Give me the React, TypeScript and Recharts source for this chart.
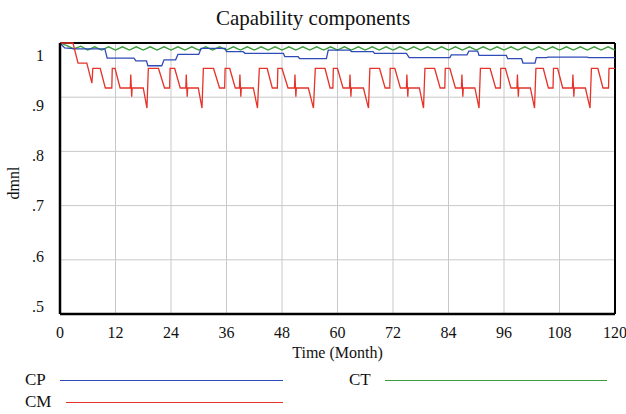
import {
  LineChart,
  Line,
  XAxis,
  YAxis,
  CartesianGrid,
  ReferenceLine,
} from "recharts";

// ─── Data ────────────────────────────────────────────────────────────────────

const TITLE = "Capability components";
const X_LABEL = "Time (Month)";
const Y_LABEL = "dmnl";

const X_TICKS = [0, 12, 24, 36, 48, 60, 72, 84, 96, 108, 120];
const Y_TICKS = [0.5, 0.6, 0.7, 0.8, 0.9, 1];

// [month, value]
const CP_POINTS: [number, number][] = [
  [0, 1.0], [1, 0.991], [3.5, 0.989], [9.7, 0.989], [10.2, 0.972],
  [16, 0.972], [16.4, 0.967], [18.7, 0.967], [19, 0.958], [22, 0.958],
  [22.5, 0.969], [25, 0.969], [25.5, 0.979], [30, 0.979], [30.5, 0.99],
  [35.7, 0.99], [36, 0.984], [39.6, 0.984], [40, 0.981], [48.3, 0.981],
  [48.6, 0.975], [51.5, 0.975], [51.8, 0.971], [57.6, 0.971], [58, 0.987],
  [62.7, 0.987], [63, 0.984], [67.7, 0.984], [68, 0.981], [74.9, 0.981],
  [75.5, 0.973], [84.3, 0.973], [84.6, 0.978], [88, 0.978], [88.4, 0.985],
  [90.3, 0.985], [90.6, 0.977], [96.5, 0.977], [96.8, 0.971], [99.8, 0.971],
  [100.1, 0.963], [102.7, 0.963], [103, 0.973], [105.2, 0.973], [105.5, 0.974],
  [114, 0.974], [114.3, 0.973], [120, 0.973],
];

const CT_POINTS: [number, number][] = [
  [0, 1.0], [1.5, 0.995], [3, 0.989], [4.5, 0.994], [6, 0.987], [7.5, 0.993],
  [9, 0.987], [10.5, 0.993], [12, 0.987], [13.5, 0.993], [15, 0.987],
  [16.5, 0.993], [18, 0.987], [19.5, 0.993], [21, 0.987], [22.5, 0.993],
  [24, 0.987], [25.5, 0.993], [27, 0.987], [28.5, 0.993], [30, 0.987],
  [31.5, 0.993], [33, 0.987], [34.5, 0.993], [36, 0.987], [37.5, 0.993],
  [39, 0.987], [40.5, 0.993], [42, 0.987], [43.5, 0.993], [45, 0.987],
  [46.5, 0.993], [48, 0.987], [49.5, 0.993], [51, 0.987], [52.5, 0.993],
  [54, 0.987], [55.5, 0.993], [57, 0.987], [58.5, 0.993], [60, 0.987],
  [61.5, 0.993], [63, 0.987], [64.5, 0.993], [66, 0.987], [67.5, 0.993],
  [69, 0.987], [70.5, 0.993], [72, 0.987], [73.5, 0.993], [75, 0.987],
  [76.5, 0.993], [78, 0.987], [79.5, 0.993], [81, 0.987], [82.5, 0.993],
  [84, 0.987], [85.5, 0.993], [87, 0.987], [88.5, 0.993], [90, 0.987],
  [91.5, 0.993], [93, 0.987], [94.5, 0.993], [96, 0.987], [97.5, 0.993],
  [99, 0.987], [100.5, 0.993], [102, 0.987], [103.5, 0.993], [105, 0.987],
  [106.5, 0.993], [108, 0.987], [109.5, 0.993], [111, 0.987], [112.5, 0.993],
  [114, 0.987], [115.5, 0.993], [117, 0.987], [118.5, 0.993], [120, 0.987],
];

const CM_POINTS: [number, number][] = [
  [0, 1.0], [2.8, 1.0], [3.9, 0.963], [5.8, 0.963], [6.9, 0.926],
  [7.1, 0.953], [8.7, 0.953], [9.8, 0.917], [11.2, 0.917], [11.3, 0.953],
  [11.9, 0.953], [13.0, 0.917], [15.2, 0.917], [15.3, 0.942], [15.5, 0.901],
  [15.6, 0.917], [18.0, 0.917],
  [18.8, 0.88], [19.1, 0.953], [21.3, 0.953], [22.6, 0.917], [23.7, 0.917],
  [23.8, 0.953], [24.8, 0.953], [26.0, 0.917], [27.2, 0.917], [27.3, 0.942],
  [27.5, 0.901], [27.6, 0.917], [29.9, 0.917],
  [30.7, 0.88], [31.0, 0.953], [33.2, 0.953], [34.5, 0.917], [35.6, 0.917],
  [35.7, 0.953], [36.7, 0.953], [37.9, 0.917], [38.8, 0.917], [38.9, 0.942],
  [39.1, 0.901], [39.2, 0.917], [41.8, 0.917],
  [42.7, 0.88], [43.1, 0.953], [44.8, 0.953], [45.9, 0.917], [47.0, 0.917],
  [47.1, 0.953], [48.0, 0.953], [49.3, 0.917], [50.7, 0.917], [50.8, 0.942],
  [51.0, 0.901], [51.1, 0.917], [53.7, 0.917],
  [54.8, 0.88], [55.2, 0.953], [57.3, 0.953], [58.4, 0.917], [59.0, 0.917],
  [59.1, 0.953], [60.0, 0.953], [61.2, 0.917], [62.6, 0.917], [62.7, 0.942],
  [62.9, 0.901], [63.0, 0.917], [65.6, 0.917],
  [66.7, 0.88], [67.0, 0.953], [69.1, 0.953], [70.3, 0.917], [71.3, 0.917],
  [71.4, 0.953], [72.4, 0.953], [73.6, 0.917], [74.9, 0.917], [75.0, 0.942],
  [75.2, 0.901], [75.3, 0.917], [77.7, 0.917],
  [78.6, 0.88], [78.9, 0.953], [81.0, 0.953], [82.2, 0.917], [83.2, 0.917],
  [83.3, 0.953], [84.3, 0.953], [85.5, 0.917], [86.8, 0.917], [86.9, 0.942],
  [87.1, 0.901], [87.2, 0.917], [89.7, 0.917],
  [90.6, 0.88], [90.9, 0.953], [93.0, 0.953], [94.2, 0.917], [95.2, 0.917],
  [95.3, 0.953], [96.3, 0.953], [97.5, 0.917], [98.8, 0.917], [98.9, 0.942],
  [99.1, 0.901], [99.2, 0.917], [101.7, 0.917],
  [102.6, 0.88], [102.9, 0.953], [104.5, 0.953], [105.6, 0.917], [106.6, 0.917],
  [106.7, 0.953], [107.6, 0.953], [108.7, 0.917], [110.8, 0.917], [110.9, 0.942],
  [111.1, 0.901], [111.2, 0.917], [113.6, 0.917],
  [114.6, 0.88], [114.9, 0.953], [116.3, 0.953], [117.4, 0.917], [118.6, 0.917],
  [118.7, 0.953], [120, 0.953],
];

// ─── Constants ───────────────────────────────────────────────────────────────

const FONT = '"Liberation Serif", "Times New Roman", serif';
const BLUE = "#2f4bb8";
const RED = "#e5332a";
const GREEN = "#3a9c3a";
const GRID = "#c9c9c9";

const toRows = (pts: [number, number][]) => pts.map(([t, v]) => ({ t, v }));

// ─── Ticks ───────────────────────────────────────────────────────────────────

function YTick({ x, y, payload }: any) {
  const v = payload.value as number;
  const label = v === 1 ? "1" : "." + Math.round(v * 10);
  // Vensim spreads its value labels a little tighter than the grid
  const shift = 12 - 39 * (1 - v);
  return (
    <text
      x={x}
      y={y + shift}
      textAnchor="end"
      dominantBaseline="central"
      style={{ fontFamily: FONT, fontSize: 16, fill: "#111" }}
    >
      {label}
    </text>
  );
}

function XTick({ x, y, payload }: any) {
  return (
    <text
      x={x}
      y={y + 10}
      textAnchor="middle"
      dominantBaseline="central"
      style={{ fontFamily: FONT, fontSize: 16, fill: "#111" }}
    >
      {payload.value}
    </text>
  );
}

// ─── Component ───────────────────────────────────────────────────────────────

function LegendItem({ label, color, textLeft, lineLeft, lineRight, cy }: any) {
  return (
    <>
      <div
        style={{
          position: "absolute",
          left: textLeft,
          top: cy - 10,
          height: 20,
          lineHeight: "20px",
          fontSize: 17,
          color: "#111",
        }}
      >
        {label}
      </div>
      <div
        style={{
          position: "absolute",
          left: lineLeft,
          top: cy - 0.5,
          width: lineRight - lineLeft,
          height: 1.3,
          background: color,
        }}
      />
    </>
  );
}

export default function App() {
  return (
    <div
      style={{
        position: "absolute",
        left: 0,
        top: 0,
        width: 626,
        height: 414,
        background: "#fff",
        fontFamily: FONT,
      }}
    >
      <div
        style={{
          position: "absolute",
          left: 0,
          top: 6,
          width: 626,
          textAlign: "center",
          fontSize: 21,
          lineHeight: "24px",
          color: "#111",
        }}
      >
        {TITLE}
      </div>

      <LineChart
        width={626}
        height={414}
        margin={{ top: 43, right: 11, bottom: 70, left: 0 }}
        style={{ fontFamily: FONT }}
      >
        <CartesianGrid stroke={GRID} strokeWidth={1} />
        <XAxis
          type="number"
          dataKey="t"
          domain={[0, 120]}
          ticks={X_TICKS}
          height={30}
          tickLine={false}
          axisLine={{ stroke: "#000", strokeWidth: 2.5 }}
          tick={<XTick />}
          interval={0}
        />
        <YAxis
          type="number"
          domain={[0.5, 1]}
          ticks={Y_TICKS}
          width={60}
          tickLine={false}
          axisLine={{ stroke: "#000", strokeWidth: 2.5 }}
          tick={<YTick />}
          tickMargin={10}
          interval={0}
        />
        <ReferenceLine y={1} stroke="#000" strokeWidth={2} />
        <ReferenceLine x={120} stroke="#000" strokeWidth={2} />
        <Line
          data={toRows(CT_POINTS)}
          dataKey="v"
          stroke={GREEN}
          strokeWidth={1.3}
          dot={false}
          type="linear"
          isAnimationActive={false}
        />
        <Line
          data={toRows(CP_POINTS)}
          dataKey="v"
          stroke={BLUE}
          strokeWidth={1.3}
          dot={false}
          type="linear"
          isAnimationActive={false}
        />
        <Line
          data={toRows(CM_POINTS)}
          dataKey="v"
          stroke={RED}
          strokeWidth={1.3}
          dot={false}
          type="linear"
          isAnimationActive={false}
        />
      </LineChart>

      <div
        style={{
          position: "absolute",
          left: 60,
          width: 555,
          top: 343,
          textAlign: "center",
          fontSize: 16,
          lineHeight: "20px",
          color: "#111",
        }}
      >
        {X_LABEL}
      </div>

      <div
        style={{
          position: "absolute",
          left: 14 - 30,
          top: 183 - 10,
          width: 60,
          height: 20,
          lineHeight: "20px",
          textAlign: "center",
          fontSize: 16,
          color: "#111",
          transform: "rotate(-90deg)",
        }}
      >
        {Y_LABEL}
      </div>

      <LegendItem label="CP" color={BLUE} textLeft={25} lineLeft={60} lineRight={283} cy={380} />
      <LegendItem label="CT" color={GREEN} textLeft={349} lineLeft={385} lineRight={607} cy={380} />
      <LegendItem label="CM" color={RED} textLeft={25} lineLeft={66} lineRight={283} cy={402} />
    </div>
  );
}
